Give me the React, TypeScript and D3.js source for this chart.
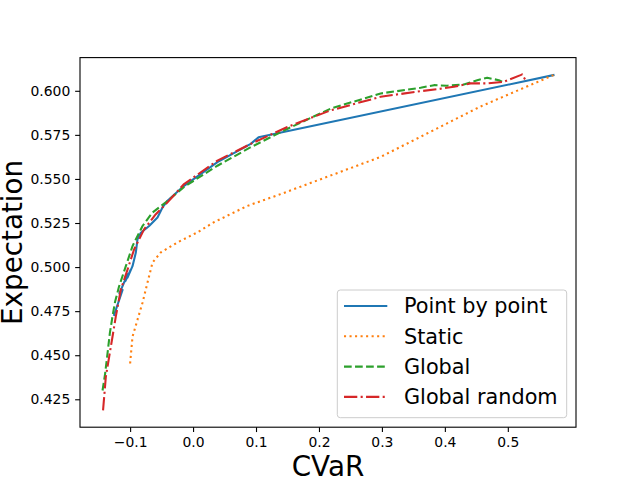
import * as d3 from "d3";
import { useEffect, useRef } from "react";

const width = 640;
const height = 480;
const margin = { top: 57.6, right: 64, bottom: 52.8, left: 80 };

// Point by point
const pointX = [
  -0.1254, -0.112, -0.117, -0.104, -0.1075, -0.0989, -0.1041, -0.0962, -0.091,
  -0.0883, -0.083, -0.0698, -0.0565, -0.0486, -0.0406, -0.0143, 0.0387, 0.0916,
  0.104, 0.5725,
];
const pointY = [
  0.4729, 0.487, 0.485, 0.496, 0.492, 0.4986, 0.494, 0.5005, 0.5081, 0.5157,
  0.5195, 0.5233, 0.5281, 0.5338, 0.5376, 0.5461, 0.5595, 0.5699, 0.5736, 0.6089,
];

// Static
const staticX = [
  -0.1, -0.0962, -0.0883, -0.0803, -0.0724, -0.0644, -0.0513, -0.0248, 0.007,
  0.0329, 0.0863, 0.1392, 0.298, 0.4567, 0.5725,
];
const staticY = [
  0.4453, 0.4605, 0.4701, 0.4798, 0.4912, 0.5026, 0.5083, 0.514, 0.5197, 0.5254,
  0.5347, 0.5414, 0.5625, 0.5911, 0.6089,
];

// Global
const globalX = [
  -0.1438, -0.1397, -0.1359, -0.1322, -0.128, -0.1238, -0.1175, -0.1068, -0.0962,
  -0.0803, -0.0644, -0.0433, -0.0143, 0.0387, 0.0916, 0.1444, 0.2186, 0.298,
  0.3614, 0.3827, 0.4038, 0.4302, 0.4514, 0.4673, 0.4857, 0.4911,
];
const globalY = [
  0.43, 0.4396, 0.451, 0.4625, 0.472, 0.4805, 0.4891, 0.5005, 0.5119, 0.5233,
  0.531, 0.5367, 0.5455, 0.5575, 0.568, 0.5775, 0.5899, 0.5985, 0.6017, 0.6032,
  0.6029, 0.6036, 0.606, 0.6074, 0.606, 0.6051,
];

// Global random
const randomX = [
  -0.143, -0.1386, -0.1333, -0.128, -0.1227, -0.1148, -0.1041, -0.0937, -0.0778,
  -0.0592, -0.0406, -0.0143, 0.0387, 0.0916, 0.1498, 0.2186, 0.298, 0.3614,
  0.3879, 0.4143, 0.4408, 0.4673, 0.4937, 0.5202, 0.5228, 0.5281,
];
const randomY = [
  0.4187, 0.4377, 0.4491, 0.4605, 0.472, 0.4872, 0.4986, 0.51, 0.5214, 0.53,
  0.5367, 0.5471, 0.5604, 0.5699, 0.5795, 0.5889, 0.5966, 0.5998, 0.6009, 0.6023,
  0.6042, 0.6042, 0.6051, 0.6089, 0.6093, 0.606,
];

const xTicks = [-0.1, 0.0, 0.1, 0.2, 0.3, 0.4, 0.5];
const yTicks = [0.425, 0.45, 0.475, 0.5, 0.525, 0.55, 0.575, 0.6];

const seriesNames = ["Point by point", "Static", "Global", "Global random"];
const colors = ["#1f77b4", "#ff7f0e", "#2ca02c", "#d62728"];
const dashes = ["none", "2.08,3.44", "7.7,3.33", "13.3,3.33,2.08,3.33"];

const font = "DejaVu Sans, sans-serif";

function drawChart(node: SVGSVGElement) {
  const svg = d3.select(node);
  svg.selectAll("*").remove();

  const series = [
    [pointX, pointY],
    [staticX, staticY],
    [globalX, globalY],
    [randomX, randomY],
  ];

  const allX = series.flatMap((s) => s[0]);
  const allY = series.flatMap((s) => s[1]);
  const [x0, x1] = d3.extent(allX) as [number, number];
  const [y0, y1] = d3.extent(allY) as [number, number];
  const padX = (x1 - x0) * 0.05;
  const padY = (y1 - y0) * 0.05;

  const x = d3
    .scaleLinear()
    .domain([x0 - padX, x1 + padX])
    .range([margin.left, width - margin.right]);
  const y = d3
    .scaleLinear()
    .domain([y0 - padY, y1 + padY])
    .range([height - margin.bottom, margin.top]);

  svg.append("rect").attr("width", width).attr("height", height).attr("fill", "white");

  // lines
  const line = d3
    .line<number>()
    .x((d) => d);

  series.forEach((s, i) => {
    const pts = s[0].map((v, j) => [x(v), y(s[1][j])] as [number, number]);
    svg
      .append("path")
      .attr("d", d3.line()(pts))
      .attr("fill", "none")
      .attr("stroke", colors[i])
      .attr("stroke-width", 2.08)
      .attr("stroke-dasharray", dashes[i])
      .attr("stroke-linejoin", "round")
      .attr("stroke-linecap", i === 0 ? "square" : "butt");
  });
  void line;

  // x axis
  const gx = svg
    .append("g")
    .attr("transform", `translate(0,${height - margin.bottom})`)
    .call(
      d3
        .axisBottom(x)
        .tickValues(xTicks)
        .tickSizeInner(4.86)
        .tickSizeOuter(0)
        .tickPadding(4.86)
        .tickFormat((d) => d3.format(".1f")(d as number).replace("-", "\u2212"))
    );
  gx.select(".domain").remove();
  gx.selectAll("line").attr("stroke", "black").attr("stroke-width", 1.1);
  gx.selectAll("text")
    .attr("font-family", font)
    .attr("font-size", 13.9)
    .attr("fill", "black");

  // y axis
  const gy = svg
    .append("g")
    .attr("transform", `translate(${margin.left},0)`)
    .call(
      d3
        .axisLeft(y)
        .tickValues(yTicks)
        .tickSizeInner(4.86)
        .tickSizeOuter(0)
        .tickPadding(4.86)
        .tickFormat((d) => d3.format(".3f")(d as number))
    );
  gy.select(".domain").remove();
  gy.selectAll("line").attr("stroke", "black").attr("stroke-width", 1.1);
  gy.selectAll("text")
    .attr("font-family", font)
    .attr("font-size", 13.9)
    .attr("fill", "black");

  // frame
  svg
    .append("rect")
    .attr("x", margin.left)
    .attr("y", margin.top)
    .attr("width", width - margin.left - margin.right)
    .attr("height", height - margin.top - margin.bottom)
    .attr("fill", "none")
    .attr("stroke", "black")
    .attr("stroke-width", 1.1);

  // axis labels
  svg
    .append("text")
    .attr("x", (margin.left + width - margin.right) / 2)
    .attr("y", 476)
    .attr("text-anchor", "middle")
    .attr("font-family", font)
    .attr("font-size", 27.8)
    .text("CVaR");

  svg
    .append("text")
    .attr("transform", `translate(21.5,${(margin.top + height - margin.bottom) / 2}) rotate(-90)`)
    .attr("text-anchor", "middle")
    .attr("font-family", font)
    .attr("font-size", 27.8)
    .text("Expectation");

  // legend
  const legend = svg.append("g").classed("legend", true);
  legend
    .append("rect")
    .attr("x", 337.3)
    .attr("y", 290)
    .attr("width", 229.4)
    .attr("height", 127.7)
    .attr("rx", 3)
    .attr("fill", "white")
    .attr("fill-opacity", 0.8)
    .attr("stroke", "#cccccc")
    .attr("stroke-width", 1);

  const rows = legend
    .selectAll("g.legend-row")
    .data(seriesNames)
    .enter()
    .append("g")
    .classed("legend-row", true);

  rows
    .append("line")
    .attr("x1", 344)
    .attr("x2", 387.3)
    .attr("y1", (d, i) => 306 + i * 30.3)
    .attr("y2", (d, i) => 306 + i * 30.3)
    .attr("stroke", (d, i) => colors[i])
    .attr("stroke-width", 2.08)
    .attr("stroke-dasharray", (d, i) => dashes[i]);

  rows
    .append("text")
    .attr("x", 404)
    .attr("y", (d, i) => 313.3 + i * 30.3)
    .attr("font-family", font)
    .attr("font-size", 20.8)
    .attr("fill", "black")
    .text((d) => d);
}

export default function App() {
  const ref = useRef<SVGSVGElement>(null);
  useEffect(() => {
    if (ref.current) drawChart(ref.current);
  }, []);
  return (
    <div style={{ position: "absolute", left: 0, top: 0 }}>
      <svg ref={ref} width={width} height={height}></svg>
    </div>
  );
}
